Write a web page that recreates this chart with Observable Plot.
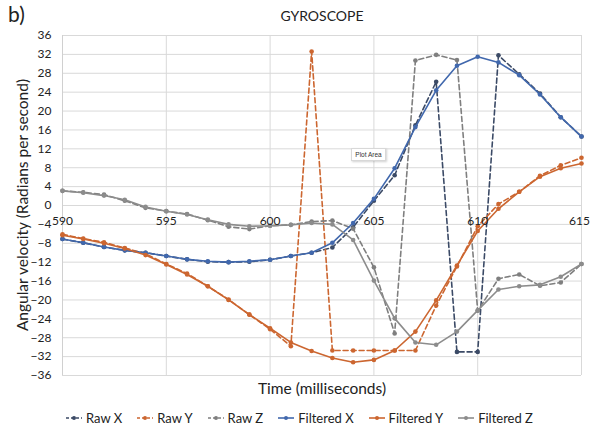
<!DOCTYPE html>
<html>
<head>
<meta charset="utf-8">
<script src="https://cdn.jsdelivr.net/npm/d3@7"></script>
<script src="https://cdn.jsdelivr.net/npm/@observablehq/plot@0.6"></script>
<style>
  html, body { margin: 0; padding: 0; background: #fff; }
  #wrap { position: relative; width: 590px; height: 428px; font-family: Lato, "Open Sans", sans-serif; color: #222; overflow: hidden; }
  #chart { position: absolute; left: 0; top: 0; }
  .ov { position: absolute; white-space: nowrap; }
  #legend { position: absolute; left: 0; width: 590px; top: 410px; display: flex; justify-content: center; gap: 14px; font-size: 13px; padding-left: 4px; }
  #legend .it { display: flex; align-items: center; gap: 3px; }
  #tip { position: absolute; left: 351px; top: 148px; width: 33px; height: 11px; font-size: 6.5px; line-height: 11px; text-align: center; background: #fff; border: 1px solid #d8d8d8; box-shadow: 1px 1px 2px rgba(0,0,0,0.18); color: #333; font-family: "Liberation Sans", sans-serif; }
</style>
</head>
<body>
<div id="wrap">
  <div id="chart"></div>
  <div class="ov" style="left:8px; top:1px; font-size:21px;">b)</div>
  <div class="ov" style="left:322px; top:7px; transform:translateX(-50%); font-size:14px;">GYROSCOPE</div>
  <div class="ov" style="left:22px; top:205px; transform:translate(-50%,-50%) rotate(-90deg); font-size:15.5px;">Angular velocity (Radians per second)</div>
  <div class="ov" style="left:322px; top:379px; transform:translateX(-50%); font-size:15.5px;">Time (milliseconds)</div>
  <div id="tip">Plot Area</div>
  <div id="legend"></div>
</div>
<script>
const times = d3.range(590, 616);
const seriesNames = ["Raw X", "Raw Y", "Raw Z", "Filtered X", "Filtered Y", "Filtered Z"];
const seriesColors = ["#3b4a66", "#cc6630", "#7f7f7f", "#4168ad", "#cc6630", "#8c8c8c"];
const seriesDashed = [true, true, true, false, false, false];

const rawX = [-7.1, -7.9, -8.8, -9.5, -10.0, -10.7, -11.4, -11.9, -12.0, -11.9, -11.5, -10.7, -10.0, -8.9, -4.6, 1.0, 6.4, 17.0, 26.2, -31.0, -31.0, 31.8, 27.8, 23.7, 18.7, 14.6];
const rawY = [-6.1, -7.0, -7.8, -9.0, -10.2, -12.4, -14.4, -17.1, -19.9, -23.1, -26.2, -29.8, 32.6, -30.7, -30.7, -30.7, -30.7, -30.7, -21.2, -12.9, -4.4, 0.3, 2.9, 6.3, 8.5, 10.1];
const rawZ = [3.1, 2.8, 2.3, 1.0, -0.5, -1.2, -1.8, -3.1, -4.5, -5.0, -4.3, -4.1, -3.4, -3.2, -4.9, -13.1, -27.1, 30.7, 31.9, 30.8, -22.3, -15.5, -14.6, -17.0, -16.3, -12.4];
const filtX = [-7.1, -7.9, -8.8, -9.5, -10.0, -10.7, -11.4, -11.8, -12.0, -11.8, -11.5, -10.7, -10.0, -7.9, -3.7, 1.4, 7.9, 16.6, 24.4, 29.6, 31.5, 30.3, 27.6, 23.5, 18.7, 14.6];
const filtY = [-6.3, -7.1, -8.0, -9.1, -10.5, -12.5, -14.6, -17.1, -20.0, -23.1, -26.0, -29.0, -30.8, -32.3, -33.2, -32.7, -30.7, -26.7, -20.1, -12.7, -5.4, -0.7, 2.9, 6.1, 7.9, 8.9];
const filtZ = [3.1, 2.7, 2.1, 1.2, -0.3, -1.2, -1.9, -3.0, -4.0, -4.4, -4.3, -4.1, -3.7, -4.0, -7.3, -15.9, -23.9, -29.0, -29.5, -26.7, -22.2, -17.8, -17.1, -16.8, -15.1, -12.4];

const yTicks = d3.range(-36, 37, 4);
const xTicks = [590, 595, 600, 605, 610, 615];

const allValues = [rawX, rawY, rawZ, filtX, filtY, filtZ];

const lineMarks = [];
seriesNames.forEach((name, i) => {
  const rows = times.map((t, j) => ({t, v: allValues[i][j]}));
  lineMarks.push(Plot.line(rows, {
    x: "t", y: "v", stroke: seriesColors[i], strokeWidth: 1.6,
    strokeDasharray: seriesDashed[i] ? "5,3" : null
  }));
  lineMarks.push(Plot.dot(rows, {x: "t", y: "v", r: 2.3, fill: seriesColors[i], stroke: "none"}));
});

const chart = Plot.plot({
  width: 590,
  height: 428,
  marginLeft: 62,
  marginRight: 9,
  marginTop: 35,
  marginBottom: 53,
  x: {domain: [590, 615], axis: null},
  y: {domain: [-36, 36]},
  style: {fontFamily: "Lato, 'Open Sans', sans-serif", fontSize: "12px", background: "transparent", color: "#222"},
  marks: [
    Plot.gridY(yTicks, {stroke: "#d9d9d9", strokeOpacity: 1}),
    Plot.gridX(xTicks, {stroke: "#d9d9d9", strokeOpacity: 1}),
    Plot.ruleX([590], {stroke: "#d0d0d0"}),
    Plot.axisY(yTicks, {tickSize: 0, tickPadding: 11, label: null, fontSize: 12}),
    ...lineMarks,
    Plot.text(xTicks.slice(0, -1), {x: d => d, y: 0, dy: 16, text: d => String(d), fontSize: 12, fill: "#222"}),
    Plot.text(xTicks.slice(-1), {x: d => d, y: 0, dy: 16, dx: -2, textAnchor: "middle", text: d => String(d), fontSize: 12, fill: "#222"})
  ]
});
document.getElementById("chart").appendChild(chart);

const legend = document.getElementById("legend");
seriesNames.forEach((name, i) => {
  const it = document.createElement("div");
  it.className = "it";
  const dash = seriesDashed[i] ? 'stroke-dasharray="3,2"' : '';
  it.innerHTML = `<svg width="18" height="8"><line x1="1" y1="4" x2="17" y2="4" stroke="${seriesColors[i]}" stroke-width="1.6" ${dash}/><circle cx="9" cy="4" r="2" fill="${seriesColors[i]}"/></svg><span>${name}</span>`;
  legend.appendChild(it);
});
</script>
</body>
</html>
